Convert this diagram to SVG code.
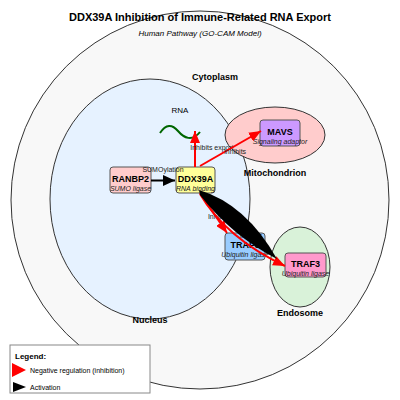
<svg xmlns="http://www.w3.org/2000/svg" width="400" height="400" viewBox="0 0 400 400">
<style>
text{font-family:"Liberation Sans",Arial,sans-serif;fill:#000}
.comp{stroke:#333;stroke-width:1}
.clabel{font-size:9px;font-weight:bold;text-anchor:middle}
.box{stroke:#555;stroke-width:1}
.nt{font-size:9px;font-weight:bold;text-anchor:middle}
.ns{font-size:7px;font-style:italic;text-anchor:middle;fill:#222}
.el{font-size:7px;text-anchor:middle;fill:#222}
.inh{stroke:#f00;stroke-width:2;fill:none}
.act{stroke:#000;stroke-width:2;fill:none}
</style>
<defs>
<marker id="mInh" viewBox="0 0 12 10" markerWidth="12" markerHeight="10" refX="12" refY="5" orient="auto" markerUnits="userSpaceOnUse"><path d="M0,0 L12,5 L0,10 Z" fill="#f00"/></marker>
<marker id="mAct" viewBox="0 0 12 11" markerWidth="12" markerHeight="11" refX="12" refY="5.5" orient="auto" markerUnits="userSpaceOnUse"><path d="M0,0 L12,5.5 L0,11 Z" fill="#000"/></marker>
</defs>
<rect width="400" height="400" fill="#fff"/>
<g id="compartments">
<circle id="cytoplasm" class="comp" cx="200" cy="200" r="189" fill="#f8f8f8"/>
<ellipse id="nucleus" class="comp" cx="150" cy="199" rx="100" ry="120" fill="#e6f2ff"/>
<ellipse id="mitochondrion" class="comp" cx="275" cy="135" rx="50" ry="28" fill="#ffcccc"/>
<ellipse id="endosome" class="comp" cx="300" cy="267" rx="30" ry="40" fill="#d9f2d9"/>
<text class="clabel" x="215" y="80">Cytoplasm</text>
<text class="clabel" x="150" y="323">Nucleus</text>
<text class="clabel" x="275" y="176">Mitochondrion</text>
<text class="clabel" x="300" y="316">Endosome</text>
</g>
<text x="200" y="21" font-size="11" font-weight="bold" text-anchor="middle">DDX39A Inhibition of Immune-Related RNA Export</text>
<text x="200" y="36" font-size="8" font-style="italic" text-anchor="middle" fill="#333">Human Pathway (GO-CAM Model)</text>
<g id="RNA">
<text x="180" y="113" font-size="8" text-anchor="middle">RNA</text>
<path d="M160,133 C166,124 172,124 178,131 S192,142 200,132" fill="none" stroke="#060" stroke-width="2"/>
</g>
<g id="RANBP2">
<rect class="box" x="110" y="167" width="41" height="26" rx="3" fill="#ffcccc"/>
<text class="nt" x="130.5" y="182">RANBP2</text>
<text class="ns" x="130.5" y="191">SUMO ligase</text>
</g>
<g id="DDX39A">
<rect class="box" x="176" y="167" width="39" height="26" rx="3" fill="#ffff99"/>
<text class="nt" x="195.5" y="182">DDX39A</text>
<text class="ns" x="195.5" y="191">RNA binding</text>
</g>
<g id="MAVS">
<rect class="box" x="260" y="120" width="40" height="26" rx="3" fill="#cc99ff"/>
<text class="nt" x="280" y="135">MAVS</text>
<text class="ns" x="280" y="144">Signaling adaptor</text>
</g>
<g id="TRAF6">
<rect class="box" x="225" y="233" width="40" height="27" rx="3" fill="#99ccff"/>
<text class="nt" x="245" y="248">TRAF6</text>
<text class="ns" x="245" y="257">Ubiquitin ligase</text>
</g>
<g id="TRAF3">
<rect class="box" x="285" y="253" width="41" height="24" rx="3" fill="#ff99cc"/>
<text class="nt" x="305.5" y="267">TRAF3</text>
<text class="ns" x="305.5" y="276">Ubiquitin ligase</text>
</g>
<g id="connectors">
<line class="act" x1="151" y1="180.5" x2="175" y2="180.5" marker-end="url(#mAct)"/>
<text class="el" x="163" y="172">SUMOylation</text>
<line class="inh" x1="195" y1="167" x2="195" y2="131" marker-end="url(#mInh)"/>
<text class="el" x="212" y="150">Inhibits export</text>
<line class="inh" x1="200" y1="166" x2="261" y2="131" marker-end="url(#mInh)"/>
<text class="el" x="235" y="154">Inhibits</text>
<line class="inh" x1="200" y1="193" x2="227" y2="233" marker-end="url(#mInh)"/>
<text class="el" x="219" y="219">Inhibits</text>
<path class="inh" d="M200,194 Q226,238 285,266" marker-end="url(#mInh)"/>
<text class="el" x="251" y="238">Inhibits</text>
<path d="M199,190 Q246,204 277,259 Q232,236 200,195 Z" fill="#000"/>
</g>
<g id="legend">
<rect x="10" y="345" width="140" height="48" fill="#fff" stroke="#888" stroke-width="1"/>
<text x="15" y="359" font-size="8" font-weight="bold">Legend:</text>
<polygon points="12,363 26,370 12,377" fill="#f00"/>
<text x="30" y="373" font-size="7" fill="#222">Negative regulation (inhibition)</text>
<polygon points="13,382 26,387 13,392" fill="#000"/>
<text x="30" y="389.5" font-size="7" fill="#222">Activation</text>
</g>
</svg>
